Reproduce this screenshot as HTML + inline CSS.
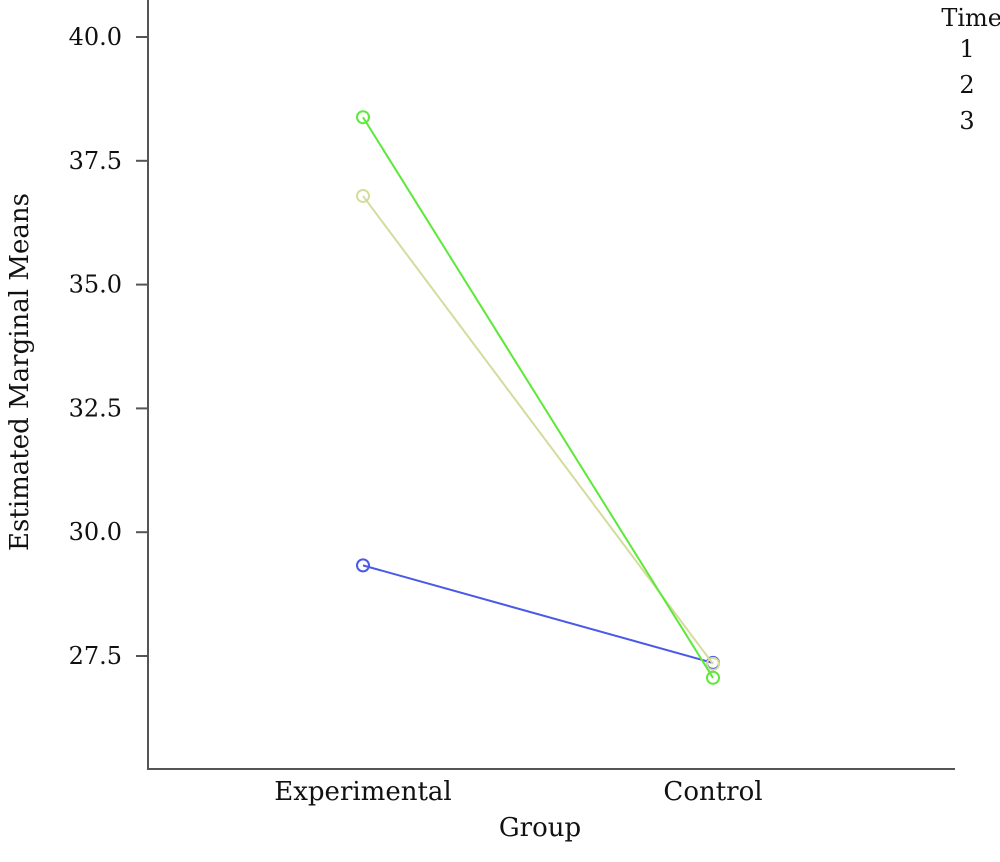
<!DOCTYPE html>
<html><head><meta charset="utf-8"><style>
body{margin:0;background:#fff;}
svg{display:block;font-family:"DejaVu Serif","Liberation Serif",serif;}
</style></head><body>
<svg id="chart" width="1000" height="862" viewBox="0 0 1000 862"></svg>
<script>
const groups = ["Experimental","Control"];
const seriesNames = ["1","2","3"];
const time1 = [29.33, 27.36];
const time2 = [36.79, 27.34];
const time3 = [38.38, 27.06];
const yTicks = [27.5, 30.0, 32.5, 35.0, 37.5, 40.0];
const colors = ["#4a5ae8","#d4dc9c","#5ee83a"];
const series = [time1, time2, time3];

const NS = "http://www.w3.org/2000/svg";
const svg = document.getElementById("chart");
function y(v){ return 656 - (v - 27.5) * 49.52; }
const xPos = {"Experimental":363, "Control":713};
function x(c){ return xPos[c]; }
function mk(tag, attrs){ const e=document.createElementNS(NS,tag); for(const k in attrs) e.setAttribute(k,attrs[k]); svg.appendChild(e); return e; }

const ya = mk("line",{x1:148,y1:0,x2:148,y2:769,stroke:"#555","stroke-width":2});


const xa = mk("line",{x1:147,y1:769,x2:955,y2:769,stroke:"#555","stroke-width":2});



yTicks.forEach(t=>{
  const tl = mk("line",{x1:136,y1:y(t),x2:148,y2:y(t),stroke:"#555","stroke-width":2});
  
  
  const tx = mk("text",{x:122,y:y(t)+8,"text-anchor":"end","font-size":24,fill:"#111"});
  tx.textContent = t.toFixed(1);
  
  
});
groups.forEach(g=>{
  const tx = mk("text",{x:x(g),y:800,"text-anchor":"middle","font-size":26,fill:"#111"});
  tx.textContent = g;
  
  
});
const xt = mk("text",{x:540,y:836,"text-anchor":"middle","font-size":26,fill:"#111"});
xt.textContent = "Group";


const yt = mk("text",{x:0,y:0,"text-anchor":"middle","font-size":26,fill:"#111",transform:"translate(28,372) rotate(-90)"});
yt.textContent = "Estimated Marginal Means";



series.forEach((s,i)=>{
  const pts = s.map((v,j)=>x(groups[j])+","+y(v)).join(" ");
  const pl = mk("polyline",{points:pts,fill:"none",stroke:colors[i],"stroke-width":2});
  
  
  s.forEach((v,j)=>{
    const c = mk("circle",{cx:x(groups[j]),cy:y(v),r:6,fill:"none",stroke:colors[i],"stroke-width":2});
    
    
  });
});

const lt = mk("text",{x:1002,y:26,"text-anchor":"end","font-size":24,fill:"#111"});
lt.textContent = "Time";


seriesNames.forEach((n,i)=>{
  const t = mk("text",{x:967,y:57+i*36,"text-anchor":"middle","font-size":24,fill:"#111"});
  t.textContent = n;
  
  
});
</script>
</body></html>
